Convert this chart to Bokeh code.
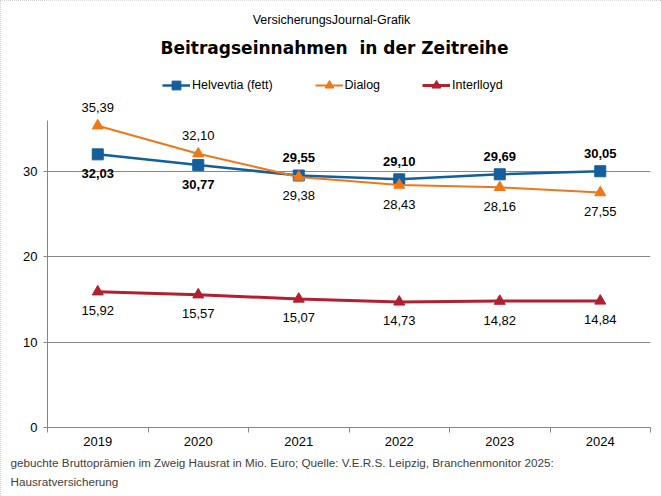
from bokeh.plotting import figure
from bokeh.models import (Range1d, FixedTicker, Label, Legend, LegendItem,
                          Title, ColumnDataSource)
from bokeh.embed import file_html
from bokeh.resources import INLINE

years = ["2019", "2020", "2021", "2022", "2023", "2024"]
helvetia = [32.03, 30.77, 29.55, 29.10, 29.69, 30.05]
dialog = [35.39, 32.10, 29.38, 28.43, 28.16, 27.55]
interlloyd = [15.92, 15.57, 15.07, 14.73, 14.82, 14.84]
y_ticks = [0, 10, 20, 30]
y_max = 36

C_HEL = "#125F9C"
C_DIA = "#EE7718"
C_INT = "#B41F2F"
FONT = "Liberation Sans"

FL, FB = 47, 427          # frame left / bottom in canvas pixels
PLOT_TOP = 120            # canvas pixel of y_max
px_per_unit = (FB - PLOT_TOP) / y_max
y_top = FB / px_per_unit  # frame extends up to the canvas top


def fmt(v):
    return f"{v:.2f}".replace(".", ",")


xs = [i + 0.5 for i in range(len(years))]

p = figure(width=661, height=496, output_backend="svg", toolbar_location=None,
           x_range=Range1d(0, len(years)), y_range=Range1d(0, y_top),
           min_border_left=FL, min_border_right=11, min_border_top=0,
           min_border_bottom=69, background_fill_color="white",
           border_fill_color="white")
p.outline_line_color = None
p.styles = {"outline": "1px dotted #BFBFBF", "outline-offset": "-1px"}

# axes
p.xaxis.ticker = FixedTicker(ticks=xs, minor_ticks=list(range(len(years) + 1)))
p.xaxis.major_label_overrides = {x: y for x, y in zip(xs, years)}
p.xaxis.major_tick_line_color = None
p.xaxis.minor_tick_line_color = "#868686"
p.xaxis.minor_tick_out = 5
p.xaxis.minor_tick_in = 0
p.xaxis.axis_line_color = "#868686"
p.xaxis.major_label_text_font = FONT
p.xaxis.major_label_text_font_size = "13px"
p.xaxis.major_label_text_color = "#000000"
p.xaxis.major_label_standoff = 3

p.yaxis.ticker = FixedTicker(ticks=y_ticks)
p.yaxis.bounds = (0, y_max)
p.yaxis.minor_tick_line_color = None
p.yaxis.major_tick_line_color = "#868686"
p.yaxis.major_tick_out = 4
p.yaxis.major_tick_in = 0
p.yaxis.axis_line_color = "#868686"
p.yaxis.major_label_text_font = FONT
p.yaxis.major_label_text_font_size = "13px"
p.yaxis.major_label_text_color = "#000000"
p.yaxis.major_label_standoff = 6

p.xgrid.grid_line_color = None
p.ygrid.ticker = FixedTicker(ticks=y_ticks)
p.ygrid.grid_line_color = "#868686"

# series
series = [
    ("Helvevtia (fett)", helvetia, C_HEL, "square", 2.5),
    ("Dialog", dialog, C_DIA, "triangle", 2.0),
    ("Interlloyd", interlloyd, C_INT, "triangle", 3.0),
]

items = []
for name, vals, col, marker, lw in series:
    src = ColumnDataSource(dict(x=xs, y=vals))
    l = p.line("x", "y", source=src, line_color=col, line_width=lw)
    s = p.scatter("x", "y", source=src, marker=marker, size=11,
                  fill_color=col, line_color=col)
    items.append(LegendItem(label=name, renderers=[l, s]))


def add_labels(vals, positions, weight):
    for x, v, pos in zip(xs, vals, positions):
        p.add_layout(Label(x=x, y=v, text=fmt(v), text_font=FONT,
                           text_font_size="13px", text_font_style=weight,
                           text_align="center", text_baseline="middle",
                           text_color="#000000",
                           y_offset=(18 if pos == "above" else -19)))


add_labels(helvetia, ["below", "below", "above", "above", "above", "above"], "bold")
add_labels(dialog, ["above", "above", "below", "below", "below", "below"], "normal")
add_labels(interlloyd, ["below"] * 6, "normal")

legend = Legend(items=items, orientation="horizontal", location=(115, 331),
                label_text_font=FONT, label_text_font_size="12.5px",
                label_text_color="#000000", glyph_width=28, glyph_height=22,
                label_standoff=2, spacing=42, padding=0, margin=0,
                label_height=22,
                border_line_color=None, background_fill_alpha=0)
p.add_layout(legend, "center")

# titles (inside the frame, which reaches the canvas top)
p.add_layout(Label(x=331 - FL, y=FB - 19, x_units="screen", y_units="screen",
                   text="VersicherungsJournal-Grafik", text_font=FONT,
                   text_font_size="12.5px", text_align="center",
                   text_baseline="middle", text_color="#000000"))
p.add_layout(Label(x=334 - FL, y=FB - 47, x_units="screen", y_units="screen",
                   text="Beitragseinnahmen\u00a0 in der Zeitreihe",
                   text_font="DejaVu Sans",
                   text_font_size="17px", text_font_style="bold",
                   text_align="center", text_baseline="middle",
                   text_color="#000000"))

# footer
for i, txt in enumerate(["gebuchte Bruttoprämien im Zweig Hausrat in Mio. Euro; Quelle: V.E.R.S. Leipzig, Branchenmonitor  2025:",
                         "Hausratversicherung"]):
    p.add_layout(Title(text=txt, align="left", offset=10 - FL,
                       standoff=(10 if i == 0 else -2),
                       text_font=FONT, text_font_size="11.7px",
                       text_font_style="normal", text_color="#404040"),
                 "below")

open("out.html", "w").write(file_html(p, INLINE))
